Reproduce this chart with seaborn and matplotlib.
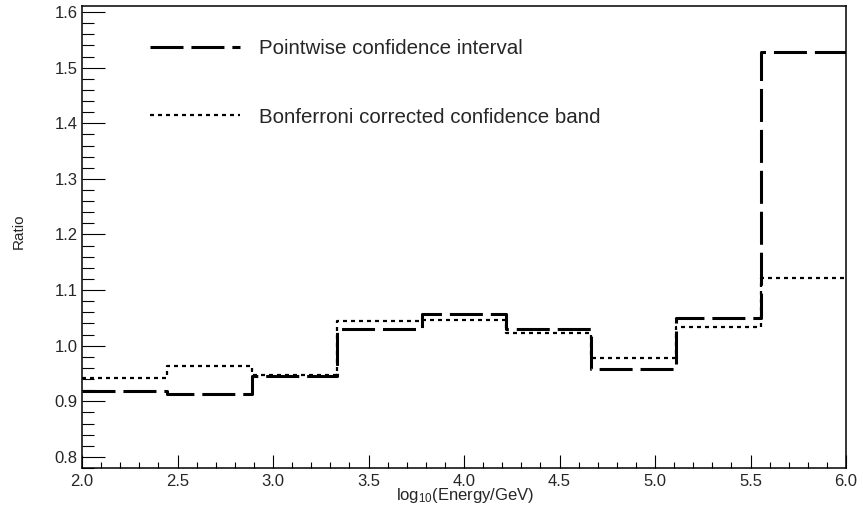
import numpy as np
import matplotlib
matplotlib.use("Agg")
import matplotlib.pyplot as plt
import seaborn as sns
from matplotlib.ticker import MultipleLocator, FormatStrFormatter

# ---- data ----
bin_edges = np.linspace(2.0, 6.0, 10)          # 9 equal-width bins in log10(E/GeV)
pointwise = [0.919, 0.913, 0.946, 1.030, 1.057, 1.030, 0.958, 1.049, 1.528]
bonferroni = [0.941, 0.964, 0.948, 1.044, 1.046, 1.023, 0.978, 1.033, 1.121]
series_labels = ["Pointwise confidence interval", "Bonferroni corrected confidence band"]
x_ticks = [2.0, 2.5, 3.0, 3.5, 4.0, 4.5, 5.0, 5.5, 6.0]
y_ticks = [0.8, 0.9, 1.0, 1.1, 1.2, 1.3, 1.4, 1.5, 1.6]
x_label = "log$_{10}$(Energy/GeV)"
y_label = "Ratio"

sns.set_style("white")
plt.rcParams.update({
    "font.family": ["Liberation Sans", "DejaVu Sans"],
    "mathtext.default": "regular",
    "xtick.direction": "in",
    "ytick.direction": "in",
    "axes.edgecolor": "black",
    "axes.linewidth": 1.1,
})

W, H = 863, 512
fig = plt.figure(figsize=(W / 100, H / 100), dpi=100)
L, R, T, B = 82, 846, 6, 468
ax = fig.add_axes([L / W, 1 - B / H, (R - L) / W, (B - T) / H])


def step_arrays(values):
    # histogram outline: each bin value held from its left edge to the right edge
    return bin_edges, np.append(np.asarray(values, float), values[-1])


xs, ys = step_arrays(pointwise)
sns.lineplot(x=xs, y=ys, drawstyle="steps-post", color="black",
             linewidth=2.2, ax=ax, zorder=3)
xs, ys = step_arrays(bonferroni)
sns.lineplot(x=xs, y=ys, drawstyle="steps-post", color="black",
             linewidth=1.6, ax=ax, zorder=2)
line_pw, line_bf = ax.lines[0], ax.lines[1]
line_pw.set_dashes((10.8, 2.6))
line_bf.set_dashes((1.8, 1.8))

ax.set_xlim(2.0, 6.0)
ax.set_ylim(0.78, 1.611)
ax.set_xticks(x_ticks)
ax.set_yticks(y_ticks)
ax.xaxis.set_major_formatter(FormatStrFormatter("%.1f"))
ax.yaxis.set_major_formatter(FormatStrFormatter("%.1f"))
ax.xaxis.set_minor_locator(MultipleLocator(0.1))
ax.yaxis.set_minor_locator(MultipleLocator(0.02))
ax.tick_params(axis="y", which="major", length=16.5, width=0.8, pad=3, labelsize=12, color="black")
ax.tick_params(axis="y", which="minor", length=8.6, width=0.8, color="black")
ax.tick_params(axis="x", which="major", length=9.4, width=0.8, pad=4.5, labelsize=12, color="black")
ax.tick_params(axis="x", which="minor", length=4.5, width=0.8, color="black")
ax.tick_params(left=True, bottom=True, top=False, right=False, which="both")
for s in ax.spines.values():
    s.set_visible(True)
    s.set_color("black")
    s.set_linewidth(1.1)

ax.set_xlabel("")
ax.set_ylabel("")
fig.text(465 / W, 1 - 500 / H, x_label, ha="center", va="baseline", fontsize=12)
fig.text(18.5 / W, 1 - 231 / H, y_label, ha="center", va="center", rotation=90, fontsize=11)

ax.legend(handles=[line_pw, line_bf], labels=series_labels, loc="upper left",
          bbox_to_anchor=(0.089, 0.928), frameon=False, fontsize=14.8,
          handlelength=4.4, handletextpad=0.9, labelspacing=2.4,
          borderpad=0, borderaxespad=0)

fig.savefig("out.png", dpi=100, facecolor="white")
